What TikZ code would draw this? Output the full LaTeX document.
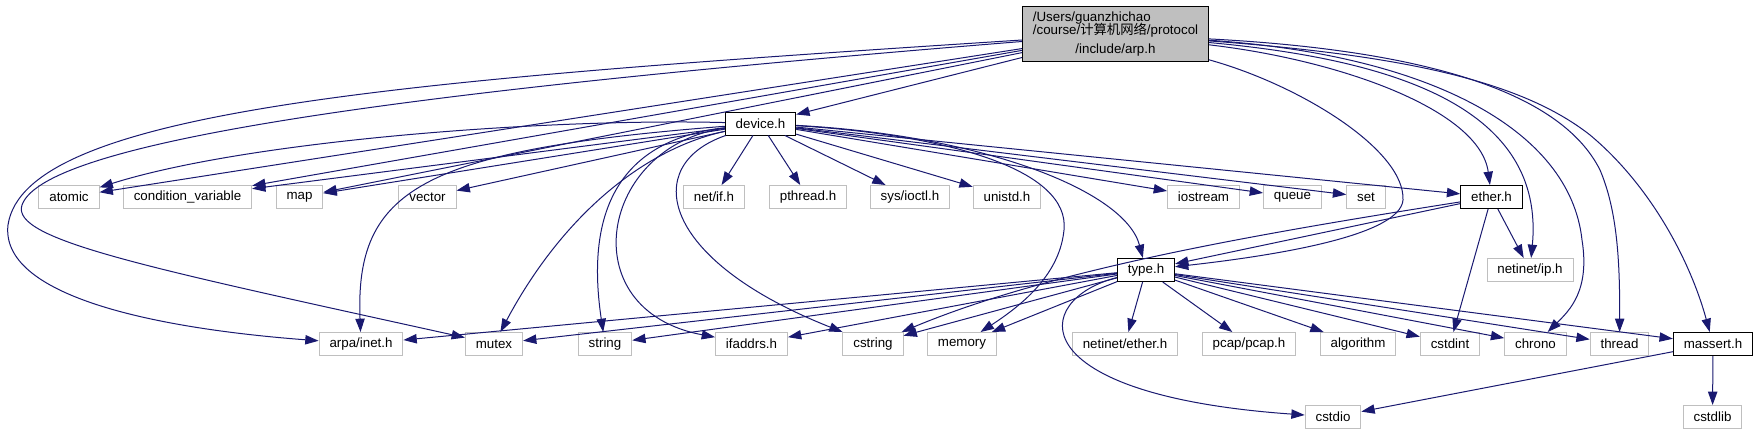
\documentclass[tikz,border=0pt]{standalone}
\usepackage{fontspec}
\setmainfont{Liberation Sans}
\newfontfamily\cjkfont{Noto Sans CJK SC}
\usepackage{tikz}
\usetikzlibrary{arrows.meta}
\definecolor{igblue}{HTML}{191970}
\definecolor{iggray}{HTML}{BFBFBF}
\tikzset{
  igfile/.style={draw=iggray, fill=white, line width=0.75pt, inner xsep=7.8pt,
                 inner ysep=0pt, minimum height=17.25pt,
                 font=\fontsize{10pt}{12pt}\selectfont},
  ighdr/.style={igfile, draw=black},
  igroot/.style={igfile, draw=black, fill=iggray, minimum width=139.5pt,
                 minimum height=41.25pt, inner xsep=0pt},
  igedge/.style={draw=igblue, line width=0.75pt,
                 -{Triangle[length=10pt,width=7pt]}},
}

\begin{document}
\begin{tikzpicture}[x=0.75pt,y=-0.75pt]
  \useasboundingbox[fill=white] (0,0) rectangle (1758,435);
  \node[igroot] (arp) at (1115.5,34)
    {\begin{tabular}{@{}l@{}}/Users/guanzhichao\\[-2.5pt]
     /course/{\cjkfont 计算机网络}/protocol\\[2.25pt]
     \multicolumn{1}{@{}c@{}}{/include/arp.h}\end{tabular}};
  \node[ighdr] (device) at (760.5,123.5) {device.h};
  \node[ighdr] (ether) at (1491.5,197) {ether.h};
  \node[ighdr] (type) at (1146,270) {type.h};
  \node[ighdr] (massert) at (1713,344) {massert.h};
  \foreach \n/\x/\lbl in {atomic/69/atomic, condvar/187.5/condition\_variable,
      map/299.5/map, vector/427.5/vector, netif/714/{net/if.h},
      pthread/808/pthread.h, ioctl/910/{sys/ioctl.h}, unistd/1007/unistd.h,
      iostream/1203.5/iostream, queue/1292.5/queue, set/1366/set}
    \node[igfile] (\n) at (\x,197) {\lbl};
  \node[igfile] (netip) at (1530,270) {netinet/ip.h};
  \foreach \n/\x/\lbl in {arpainet/361/{arpa/inet.h}, mutex/494/mutex,
      string/605/string, ifaddrs/751.5/ifaddrs.h, cstring/873/cstring,
      memory/962/memory, netether/1125/{netinet/ether.h},
      pcap/1249/{pcap/pcap.h}, algorithm/1358/algorithm, cstdint/1450/cstdint,
      chrono/1535.5/chrono, thread/1619.5/thread}
    \node[igfile] (\n) at (\x,344) {\lbl};
  \node[igfile] (cstdio) at (1333,417) {cstdio};
  \node[igfile] (cstdlib) at (1712.5,417) {cstdlib};

  \foreach \dst in {device,atomic,condvar,map}
    \draw[igedge] (arp) -- (\dst);
  \draw[igedge] (arp) .. controls (400,80) and (25,110) .. (8,225)
                      .. controls (0,295) and (150,328) .. (arpainet);
  \draw[igedge] (arp) .. controls (420,90) and (45,140) .. (22,205)
                      .. controls (10,240) and (150,268) .. (mutex);
  \draw[igedge] (arp) .. controls (1300,85) and (1405,150) .. (1403,200)
                      .. controls (1400,235) and (1280,255) .. (type);
  \draw[igedge] (arp) .. controls (1340,60) and (1480,110) .. (ether);
  \draw[igedge] (arp) .. controls (1400,60) and (1545,110) .. (netip);
  \draw[igedge] (arp) .. controls (1430,55) and (1570,130) .. (1582,240)
                      .. controls (1590,290) and (1570,310) .. (chrono);
  \draw[igedge] (arp) .. controls (1420,50) and (1560,90) .. (1600,170)
                      .. controls (1617,210) and (1620,260) .. (thread);
  \draw[igedge] (arp) .. controls (1400,55) and (1520,80) .. (1590,135)
                      .. controls (1650,185) and (1690,260) .. (massert);

  \foreach \dst in {condvar,map,vector,netif,pthread,ioctl,unistd,iostream,
                    queue,set,ether}
    \draw[igedge] (device) -- (\dst);
  \draw[igedge] (device) .. controls (550,118) and (250,140) .. (atomic);
  \draw[igedge] (device) .. controls (420,150) and (355,190) .. (arpainet);
  \draw[igedge] (device) .. controls (640,150) and (560,220) .. (mutex);
  \draw[igedge] (device) .. controls (620,140) and (585,210) .. (string);
  \draw[igedge] (device) .. controls (600,145) and (570,310) .. (ifaddrs);
  \draw[igedge] (device) .. controls (640,165) and (660,260) .. (cstring);
  \draw[igedge] (device) .. controls (950,135) and (1070,170) .. (1064,230)
                         .. controls (1060,270) and (1030,300) .. (memory);
  \draw[igedge] (device) .. controls (980,135) and (1125,190) .. (type);

  \foreach \dst in {type,netip,cstdint}
    \draw[igedge] (ether) -- (\dst);
  \draw[igedge] (ether) .. controls (1250,235) and (1050,270) .. (cstring);

  \foreach \dst in {arpainet,mutex,string,ifaddrs,cstring,memory,netether,
                    pcap,algorithm,cstdint,chrono,thread,massert}
    \draw[igedge] (type) -- (\dst);
  \draw[igedge] (type) .. controls (1030,300) and (1020,395) .. (cstdio);

  \foreach \dst in {cstdio,cstdlib}
    \draw[igedge] (massert) -- (\dst);
\end{tikzpicture}
\end{document}
